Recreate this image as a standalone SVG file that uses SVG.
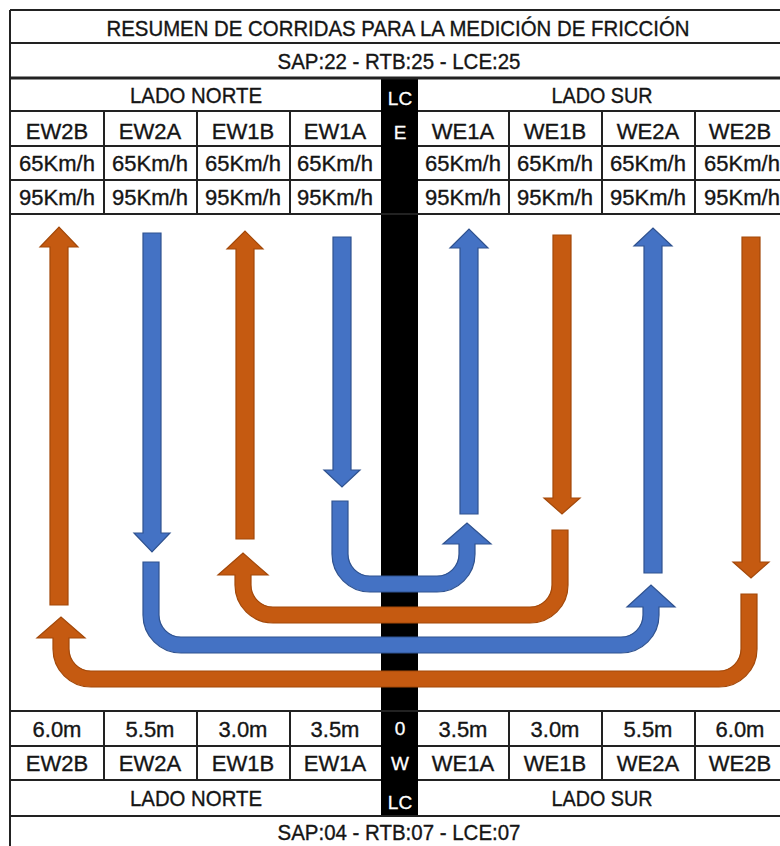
<svg xmlns="http://www.w3.org/2000/svg" width="780" height="846" viewBox="0 0 780 846">
<style>
.t{font-family:"Liberation Sans",Arial,sans-serif;font-size:22px;fill:#151515;stroke:#151515;stroke-width:0.35;text-anchor:middle}
.w{font-family:"Liberation Sans",Arial,sans-serif;font-size:19px;fill:#fff;stroke:#fff;stroke-width:0.3;text-anchor:middle}
.ln{stroke:#222;stroke-width:2;fill:none}
.ln3{stroke:#222;stroke-width:3;fill:none}
.or{fill:#C55A11;stroke:#A34809;stroke-width:1.2;stroke-linejoin:miter}
.bl{fill:#4472C4;stroke:#2F528F;stroke-width:1.2;stroke-linejoin:miter}
</style>
<rect x="0" y="0" width="780" height="846" fill="#fff"/>

<g id="table-grid">
  <rect id="center-bar" x="381" y="78" width="37" height="738" fill="#000"/>
  <path class="ln" d="M10 10 H790 M10 43 H790 M10 214 H790 M10 711 H790 M10 816 H790"/>
  <path class="ln3" d="M10 78 H790"/>
  <path class="ln" d="M10 111 H381 M418 111 H790 M10 146 H381 M418 146 H790 M10 180 H381 M418 180 H790"/>
  <path class="ln" d="M10 746 H381 M418 746 H790 M10 780 H381 M418 780 H790"/>
  <path class="ln" d="M10 10 V846"/>
  <path class="ln" d="M104 111 V214 M197 111 V214 M290 111 V214 M509 111 V214 M602 111 V214 M695 111 V214"/>
  <path class="ln" d="M104 711 V780 M197 711 V780 M290 711 V780 M509 711 V780 M602 711 V780 M695 711 V780"/>
</g>

<g id="header">
  <text class="t" x="398" y="36" textLength="583" lengthAdjust="spacingAndGlyphs">RESUMEN DE CORRIDAS PARA LA MEDICIÓN DE FRICCIÓN</text>
  <text class="t" x="399" y="69" textLength="243" lengthAdjust="spacingAndGlyphs">SAP:22 - RTB:25 - LCE:25</text>
  <text class="t" x="196" y="103" textLength="132" lengthAdjust="spacingAndGlyphs">LADO NORTE</text>
  <text class="t" x="602" y="103" textLength="101" lengthAdjust="spacingAndGlyphs">LADO SUR</text>
  <text class="w" x="400" y="105">LC</text>
  <text class="w" x="400" y="139">E</text>
</g>

<g id="top-north">
  <text class="t" x="57" y="139">EW2B</text>
  <text class="t" x="150" y="139">EW2A</text>
  <text class="t" x="243" y="139">EW1B</text>
  <text class="t" x="335" y="139">EW1A</text>
  <text class="t" x="57" y="171">65Km/h</text>
  <text class="t" x="150" y="171">65Km/h</text>
  <text class="t" x="243" y="171">65Km/h</text>
  <text class="t" x="335" y="171">65Km/h</text>
  <text class="t" x="57" y="205">95Km/h</text>
  <text class="t" x="150" y="205">95Km/h</text>
  <text class="t" x="243" y="205">95Km/h</text>
  <text class="t" x="335" y="205">95Km/h</text>
</g>

<g id="top-south">
  <text class="t" x="463" y="139">WE1A</text>
  <text class="t" x="555" y="139">WE1B</text>
  <text class="t" x="648" y="139">WE2A</text>
  <text class="t" x="740" y="139">WE2B</text>
  <text class="t" x="463" y="171">65Km/h</text>
  <text class="t" x="555" y="171">65Km/h</text>
  <text class="t" x="648" y="171">65Km/h</text>
  <text class="t" x="742" y="171">65Km/h</text>
  <text class="t" x="463" y="205">95Km/h</text>
  <text class="t" x="555" y="205">95Km/h</text>
  <text class="t" x="648" y="205">95Km/h</text>
  <text class="t" x="742" y="205">95Km/h</text>
</g>

<g id="bottom-north">
  <text class="t" x="57" y="737">6.0m</text>
  <text class="t" x="150" y="737">5.5m</text>
  <text class="t" x="243" y="737">3.0m</text>
  <text class="t" x="335" y="737">3.5m</text>
  <text class="t" x="57" y="771">EW2B</text>
  <text class="t" x="150" y="771">EW2A</text>
  <text class="t" x="243" y="771">EW1B</text>
  <text class="t" x="335" y="771">EW1A</text>
  <text class="t" x="196" y="806" textLength="132" lengthAdjust="spacingAndGlyphs">LADO NORTE</text>
</g>

<g id="bottom-south">
  <text class="t" x="463" y="737">3.5m</text>
  <text class="t" x="555" y="737">3.0m</text>
  <text class="t" x="648" y="737">5.5m</text>
  <text class="t" x="740" y="737">6.0m</text>
  <text class="t" x="463" y="771">WE1A</text>
  <text class="t" x="555" y="771">WE1B</text>
  <text class="t" x="648" y="771">WE2A</text>
  <text class="t" x="740" y="771">WE2B</text>
  <text class="t" x="602" y="806" textLength="101" lengthAdjust="spacingAndGlyphs">LADO SUR</text>
</g>

<g id="bottom-center">
  <text class="w" x="400" y="735">0</text>
  <text class="w" x="400" y="770">W</text>
  <text class="w" x="400" y="809">LC</text>
</g>

<g id="footer">
  <text class="t" x="399" y="840" textLength="243" lengthAdjust="spacingAndGlyphs">SAP:04 - RTB:07 - LCE:07</text>
</g>

<g id="connectors">
  <polygon class="or" points="50,605 50,247 40,247 59,227 78,247 68,247 68,605"/>
  <polygon class="bl" points="143,233 161,233 161,533 170,533 152,552 134,533 143,533"/>
  <polygon class="or" points="236,539 236,249 227,249 245,231 263,249 254,249 254,539"/>
  <polygon class="bl" points="333,237 351,237 351,470 360,470 342,487 324,470 333,470"/>
  <polygon class="bl" points="460,514 460,248 450,248 469,229 488,248 478,248 478,514"/>
  <polygon class="or" points="553,235 571,235 571,498 580,498 562,514 544,498 553,498"/>
  <polygon class="bl" points="644,573 644,246 634,246 653,228 672,246 662,246 662,573"/>
  <polygon class="or" points="742,237 760,237 760,562 769,562 751,578 733,562 742,562"/>
  <path class="bl" d="M332 501 V554 A38 38 0 0 0 370 592 H437 A38 38 0 0 0 475 554 V544 H491 L467 523 L443 544 H459 V554 A22 22 0 0 1 437 576 H370 A22 22 0 0 1 348 554 V501 Z"/>
  <path class="or" d="M568 530 V585 A38 38 0 0 1 530 623 H273 A38 38 0 0 1 235 585 V575 H218 L243 553 L268 575 H251 V585 A22 22 0 0 0 273 607 H530 A22 22 0 0 0 552 585 V530 Z"/>
  <path class="bl" d="M143 562 V615 A38 38 0 0 0 181 653 H621 A38 38 0 0 0 659 615 V607 H675 L651 585 L627 607 H643 V615 A22 22 0 0 1 621 637 H181 A22 22 0 0 1 159 615 V562 Z"/>
  <path class="or" d="M757 594 V649 A38 38 0 0 1 719 687 H91 A38 38 0 0 1 53 649 V638 H37 L61 617 L85 638 H69 V649 A22 22 0 0 0 91 671 H719 A22 22 0 0 0 741 649 V594 Z"/>
</g>
</svg>
